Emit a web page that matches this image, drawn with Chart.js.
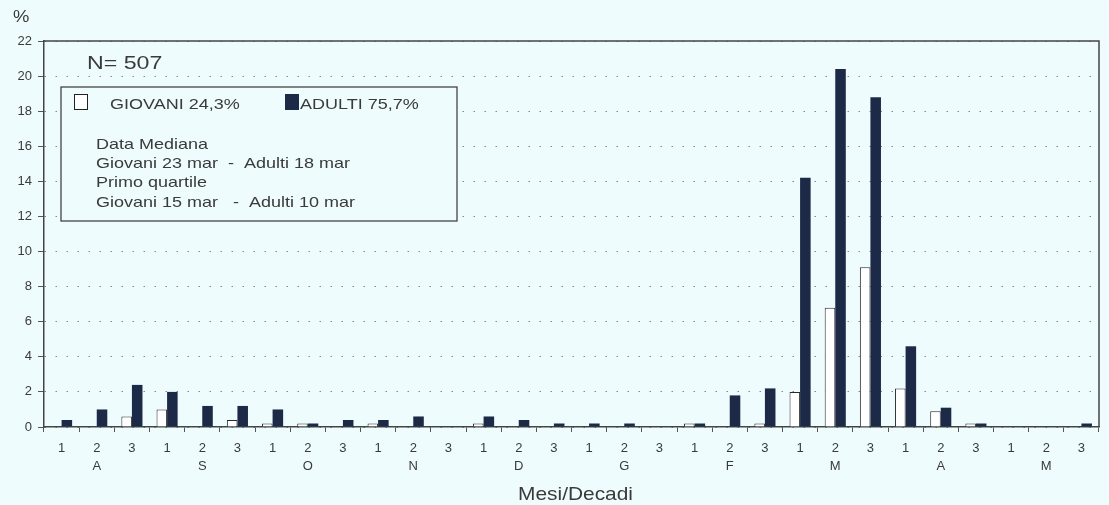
<!DOCTYPE html>
<html>
<head>
<meta charset="utf-8">
<script src="https://cdn.jsdelivr.net/npm/chart.js@4"></script>
<style>
  html, body { margin: 0; padding: 0; background: #effcfd; }
  #wrap { width: 1109px; height: 505px; position: relative; }
</style>
</head>
<body>
<div id="wrap"><canvas id="decadiChart" width="1109" height="505"></canvas></div>
<script>
// decadi (1,2,3) per mese, da agosto a maggio
var months = ['A', 'S', 'O', 'N', 'D', 'G', 'F', 'M', 'A', 'M'];
var decades = ['1', '2', '3'];
var yTicks = [0, 2, 4, 6, 8, 10, 12, 14, 16, 18, 20, 22];

// percentuali
var giovani = [0, 0, 0.6,  1.0, 0, 0.4,  0.2, 0.2, 0,  0.2, 0, 0,  0.2, 0, 0,
               0, 0, 0,  0.2, 0, 0.2,  2.0, 6.8, 9.1,  2.2, 0.9, 0.2,  0, 0, 0];
var adulti  = [0.4, 1.0, 2.4,  2.0, 1.2, 1.2,  1.0, 0.2, 0.4,  0.4, 0.6, 0,  0.6, 0.4, 0.2,
               0.2, 0.2, 0,  0.2, 1.8, 2.2,  14.2, 20.4, 18.8,  4.6, 1.1, 0.2,  0, 0, 0.2];

var legendItems = ['GIOVANI 24,3%', 'ADULTI 75,7%'];
var noteLines = ['Data Mediana', 'Giovani 23 mar  -  Adulti 18 mar', 'Primo quartile', 'Giovani 15 mar   -  Adulti 10 mar'];

var labels = [];
months.forEach(function (m) {
  decades.forEach(function (d, i) {
    labels.push([d, i === 1 ? m : '']);
  });
});

var INK = '#3a3a3a';
var NAVY = '#1c2a48';

function stretchText(ctx, text, x, y, size, sx) {
  ctx.save();
  ctx.translate(x, y);
  ctx.scale(sx, 1);
  ctx.font = size + 'px "Liberation Sans", Arial, sans-serif';
  ctx.fillStyle = INK;
  ctx.textBaseline = 'alphabetic';
  ctx.textAlign = 'left';
  ctx.fillText(text, 0, 0);
  ctx.restore();
}

var decor = {
  id: 'decor',
  beforeDraw: function (chart) {
    var c = chart.ctx;
    c.save();
    c.fillStyle = '#effcfd';
    c.fillRect(0, 0, chart.width, chart.height);
    c.restore();
  },
  afterDraw: function (chart) {
    var c = chart.ctx;
    var a = chart.chartArea;
    c.save();
    // cornice
    c.strokeStyle = '#444';
    c.lineWidth = 1.5;
    c.beginPath();
    c.moveTo(a.left, a.top);
    c.lineTo(a.right, a.top);
    c.lineTo(a.right, a.bottom);
    c.stroke();

    // riquadro legenda
    c.fillStyle = '#effcfd';
    c.fillRect(61, 87, 396, 134);
    c.lineWidth = 1.3;
    c.strokeRect(61, 87, 396, 134);

    c.lineWidth = 1;
    c.strokeStyle = '#222';
    c.fillStyle = '#fff';
    c.fillRect(74.5, 94.5, 13, 15);
    c.strokeRect(74.5, 94.5, 13, 15);
    c.fillStyle = NAVY;
    c.fillRect(285, 94, 14, 16);

    stretchText(c, legendItems[0], 110, 109, 15, 1.2);
    stretchText(c, legendItems[1], 300, 109, 15, 1.2);

    stretchText(c, noteLines[0], 96, 149, 15, 1.2);
    stretchText(c, noteLines[1], 96, 168, 15, 1.2);
    stretchText(c, noteLines[2], 96, 187, 15, 1.2);
    stretchText(c, noteLines[3], 96, 207, 15, 1.2);

    stretchText(c, 'N= 507', 87, 69, 19, 1.22);
    stretchText(c, '%', 13, 22, 16, 1.15);
    stretchText(c, 'Mesi/Decadi', 518, 500, 19, 1.1);
    c.restore();
  }
};

var ctx = document.getElementById('decadiChart').getContext('2d');
var decadiChart = new Chart(ctx, {
  type: 'bar',
  data: {
    labels: labels,
    datasets: [{
      label: 'Giovani',
      data: giovani,
      backgroundColor: '#ffffff',
      borderColor: '#2a2a2a',
      borderWidth: 1
    }, {
      label: 'Adulti',
      data: adulti,
      backgroundColor: NAVY,
      borderColor: NAVY,
      borderWidth: 0
    }]
  },
  options: {
    responsive: false,
    animation: false,
    layout: { padding: { left: 0, right: 10, top: 41, bottom: 0 } },
    datasets: {
      bar: { categoryPercentage: 0.6, barPercentage: 1.0 }
    },
    plugins: {
      legend: { display: false },
      tooltip: { enabled: false }
    },
    scales: {
      x: {
        afterFit: function (scale) { scale.height = 78; },
        grid: {
          offset: true,
          drawOnChartArea: false,
          drawTicks: true,
          tickLength: 5,
          tickColor: '#555'
        },
        border: { color: '#444', width: 1.5 },
        ticks: {
          color: INK,
          padding: 7,
          autoSkip: false,
          maxRotation: 0,
          font: { family: '"Liberation Sans", Arial, sans-serif', size: 13, lineHeight: 1.4 }
        }
      },
      y: {
        min: 0,
        max: 22,
        afterFit: function (scale) { scale.width = 44; },
        afterBuildTicks: function (scale) {
          scale.ticks = yTicks.map(function (v) { return { value: v }; });
        },
        grid: {
          color: '#7f8c8e',
          lineWidth: 1,
          tickBorderDash: [],
          tickColor: '#555',
          tickLength: 6
        },
        border: { color: '#444', width: 1.5, dash: [1.5, 9.5] },
        ticks: {
          color: INK,
          padding: 6,
          font: { family: '"Liberation Sans", Arial, sans-serif', size: 13 }
        }
      }
    }
  },
  plugins: [decor]
});
</script>
</body>
</html>
